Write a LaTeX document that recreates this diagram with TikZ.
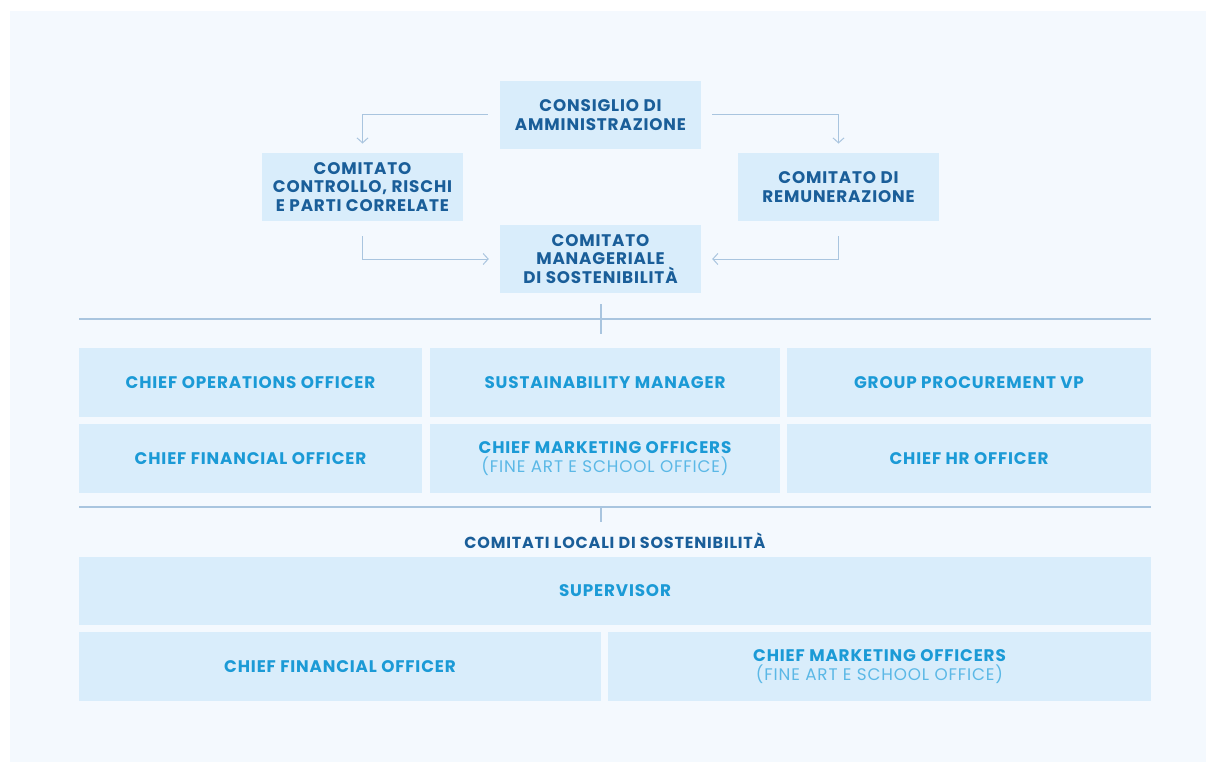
\documentclass[tikz,border=0pt]{standalone}
\usepackage{fontspec}
\setmainfont{Poppins}[LetterSpace=5]
\usetikzlibrary{arrows.meta}
\definecolor{pagebg}{HTML}{F4F9FE}
\definecolor{boxbg}{HTML}{D9EDFB}
\definecolor{darktxt}{HTML}{1A5E99}
\definecolor{lighttxt}{HTML}{1B9AD6}
\definecolor{paren}{HTML}{5BB8E6}
\definecolor{linec}{HTML}{A9C5DF}
\tikzset{
  box/.style={fill=boxbg, draw=none, inner sep=0pt, align=center, font=\fontsize{16.8}{18.7}\selectfont\bfseries},
  topbox/.style={box, text=darktxt, minimum width=201pt, minimum height=68.5pt},
  rolebox/.style={box, text=lighttxt, minimum height=68.5pt},
  conn/.style={draw=linec, line width=1pt, -{Straight Barb[length=5pt,width=11pt,line width=1pt]}},
  rule/.style={draw=linec, line width=2pt},
  title/.style={text=darktxt, inner sep=0pt, font=\fontsize{16}{18.5}\selectfont\bfseries}
}
\newcommand{\sub}[1]{\\{\fontsize{16.8}{18.7}\selectfont\mdseries\color{paren}#1}}
\begin{document}
\begin{tikzpicture}[x=1pt,y=-1pt]
\useasboundingbox (0,0) rectangle (1206,762);
\fill[white] (0,0) rectangle (1206,762);
\fill[pagebg] (10,11) rectangle (1206,762);
% top level
\node[topbox] (cda) at (600.5,115) {CONSIGLIO DI\\AMMINISTRAZIONE};
\node[topbox] (ctrl) at (362.5,187) {COMITATO\\CONTROLLO, RISCHI\\E PARTI CORRELATE};
\node[topbox] (rem) at (838.5,187) {COMITATO DI\\REMUNERAZIONE};
\node[topbox] (cms) at (600.5,259) {COMITATO\\MANAGERIALE\\DI SOSTENIBILITÀ};
\draw[conn] ([xshift=-12pt]cda.west) -| ([yshift=9pt]ctrl.north);
\draw[conn] ([xshift=11pt]cda.east) -| ([yshift=9pt]rem.north);
\draw[conn] ([yshift=-15pt]ctrl.south) |- ([xshift=-11pt]cms.west);
\draw[conn] ([yshift=-15pt]rem.south) |- ([xshift=11pt]cms.east);
% rule 1
\coordinate (r1l) at (79,319);
\coordinate (r1r) at (1151,319);
\coordinate (t1a) at (601,304);
\coordinate (t1b) at (601,334);
\draw[rule] (r1l) -- (r1r);
\draw[rule] (t1a) -- (t1b);
% roles
\node[rolebox, minimum width=343pt] (coo) at (250.5,382.5) {CHIEF OPERATIONS OFFICER};
\node[rolebox, minimum width=350pt] (sm) at (605,382.5) {SUSTAINABILITY MANAGER};
\node[rolebox, minimum width=364pt] (gp) at (969,382.5) {GROUP PROCUREMENT VP};
\node[rolebox, minimum width=343pt] (cfo) at (250.5,458.5) {CHIEF FINANCIAL OFFICER};
\node[rolebox, minimum width=350pt] (cmo) at (605,458.5) {CHIEF MARKETING OFFICERS\sub{(FINE ART E SCHOOL OFFICE)}};
\node[rolebox, minimum width=364pt] (hr) at (969,458.5) {CHIEF HR OFFICER};
% rule 2
\coordinate (r2l) at (79,507);
\coordinate (r2r) at (1151,507);
\coordinate (t2a) at (601,507);
\coordinate (t2b) at (601,522);
\draw[rule] (r2l) -- (r2r);
\draw[rule] (t2a) -- (t2b);
\node[title] (loc) at (615,540.5) {COMITATI LOCALI DI SOSTENIBILITÀ};
% local
\node[rolebox, minimum width=1072pt] (sup) at (615,591) {SUPERVISOR};
\node[rolebox, minimum width=522pt] (lcfo) at (340,666.5) {CHIEF FINANCIAL OFFICER};
\node[rolebox, minimum width=543pt] (lcmo) at (879.5,666.5) {CHIEF MARKETING OFFICERS\sub{(FINE ART E SCHOOL OFFICE)}};
\end{tikzpicture}
\end{document}
